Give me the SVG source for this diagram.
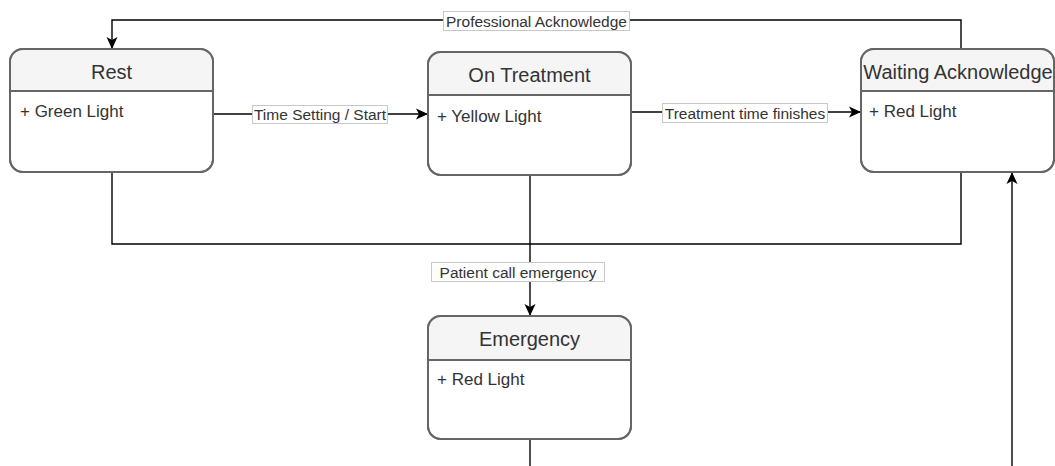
<svg xmlns="http://www.w3.org/2000/svg" width="1055" height="466" viewBox="0 0 1055 466">
  <style>
    .box { fill: #ffffff; stroke: #666666; stroke-width: 2; }
    .head { fill: #f5f5f5; stroke: none; }
    .rule { stroke: #666666; stroke-width: 2; }
    .title { font-family: "Liberation Sans", Arial, sans-serif; font-size: 20px; fill: #333333; text-anchor: middle; }
    .attr { font-family: "Liberation Sans", Arial, sans-serif; font-size: 17px; fill: #333333; }
    .edge { fill: none; stroke: #000000; stroke-width: 1.4; }
    .lblbg { fill: #ffffff; stroke: #c8c8c8; stroke-width: 1; }
    .lbl { font-family: "Liberation Sans", Arial, sans-serif; font-size: 15.5px; fill: #333333; text-anchor: middle; }
  </style>
  <defs>
    <marker id="arrow" viewBox="0 0 12 12" refX="11" refY="6" markerWidth="12" markerHeight="12" markerUnits="userSpaceOnUse" orient="auto">
      <path d="M0,0.5 L12,6 L0,11.5 L3,6 Z" fill="#000000"/>
    </marker>
    <clipPath id="clipRest"><rect x="10" y="49" width="203" height="123" rx="13"/></clipPath>
    <clipPath id="clipTreat"><rect x="428" y="52" width="203" height="123" rx="13"/></clipPath>
    <clipPath id="clipWait"><rect x="861" y="49" width="193" height="123" rx="13"/></clipPath>
    <clipPath id="clipEmerg"><rect x="428" y="316" width="203" height="123" rx="13"/></clipPath>
  </defs>

  <rect width="1055" height="466" fill="#ffffff"/>

  <!-- connectors -->
  <g id="connectors">
    <path class="edge" d="M961,49 V20 H112 V48" marker-end="url(#arrow)"/>
    <path class="edge" d="M213,114 H427" marker-end="url(#arrow)"/>
    <path class="edge" d="M631,112 H860" marker-end="url(#arrow)"/>
    <path class="edge" d="M112,172 V244 H961 V172"/>
    <path class="edge" d="M530,175 V315" marker-end="url(#arrow)"/>
    <path class="edge" d="M530,439 V466"/>
    <path class="edge" d="M1012,466 V173" marker-end="url(#arrow)"/>

    <rect class="lblbg" x="443.5" y="11.5" width="186" height="19"/>
    <text class="lbl" x="536.5" y="26.5">Professional Acknowledge</text>

    <rect class="lblbg" x="252.5" y="105.5" width="135" height="18"/>
    <text class="lbl" x="320" y="120">Time Setting / Start</text>

    <rect class="lblbg" x="662.5" y="103.5" width="165" height="19"/>
    <text class="lbl" x="745" y="118.5">Treatment time finishes</text>

    <rect class="lblbg" x="431.5" y="262.5" width="173" height="19"/>
    <text class="lbl" x="518" y="277.5">Patient call emergency</text>
  </g>

  <!-- state: Rest -->
  <g id="node-rest">
    <rect class="box" x="10" y="49" width="203" height="123" rx="13"/>
    <rect class="head" x="10" y="49" width="203" height="42" clip-path="url(#clipRest)"/>
    <rect x="10" y="49" width="203" height="123" rx="13" fill="none" stroke="#666666" stroke-width="2"/>
    <line class="rule" x1="10" y1="91" x2="213" y2="91"/>
    <text class="title" x="111.5" y="79">Rest</text>
    <text class="attr" x="20" y="117">+ Green Light</text>
  </g>

  <!-- state: On Treatment -->
  <g id="node-treatment">
    <rect class="box" x="428" y="52" width="203" height="123" rx="13"/>
    <rect class="head" x="428" y="52" width="203" height="43" clip-path="url(#clipTreat)"/>
    <rect x="428" y="52" width="203" height="123" rx="13" fill="none" stroke="#666666" stroke-width="2"/>
    <line class="rule" x1="428" y1="95" x2="631" y2="95"/>
    <text class="title" x="529.5" y="82">On Treatment</text>
    <text class="attr" x="437" y="122">+ Yellow Light</text>
  </g>

  <!-- state: Waiting Acknowledge -->
  <g id="node-waiting">
    <rect class="box" x="861" y="49" width="193" height="123" rx="13"/>
    <rect class="head" x="861" y="49" width="193" height="42" clip-path="url(#clipWait)"/>
    <rect x="861" y="49" width="193" height="123" rx="13" fill="none" stroke="#666666" stroke-width="2"/>
    <line class="rule" x1="861" y1="91" x2="1054" y2="91"/>
    <text class="title" x="958" y="79">Waiting Acknowledge</text>
    <text class="attr" x="869" y="117">+ Red Light</text>
  </g>

  <!-- state: Emergency -->
  <g id="node-emergency">
    <rect class="box" x="428" y="316" width="203" height="123" rx="13"/>
    <rect class="head" x="428" y="316" width="203" height="44" clip-path="url(#clipEmerg)"/>
    <rect x="428" y="316" width="203" height="123" rx="13" fill="none" stroke="#666666" stroke-width="2"/>
    <line class="rule" x1="428" y1="360" x2="631" y2="360"/>
    <text class="title" x="529.5" y="346">Emergency</text>
    <text class="attr" x="437" y="385">+ Red Light</text>
  </g>
</svg>
